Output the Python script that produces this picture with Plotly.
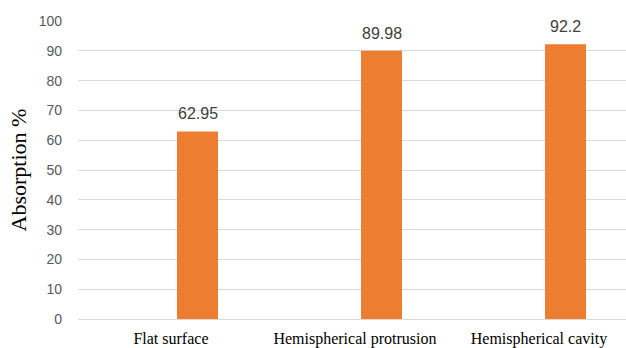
import plotly.graph_objects as go

categories = ["Flat surface", "Hemispherical protrusion", "Hemispherical cavity"]
absorption = [62.95, 89.98, 92.2]
y_ticks = [0, 10, 20, 30, 40, 50, 60, 70, 80, 90, 100]

BAR_OFFSET = 0.033
BAR_WIDTH = 0.223

fig = go.Figure()
fig.add_trace(go.Bar(
    x=categories,
    y=absorption,
    marker=dict(color="#ED7D31", line=dict(width=0)),
    width=BAR_WIDTH,
    offset=BAR_OFFSET,
    cliponaxis=False,
))

# value labels above each bar
for i, v in enumerate(absorption):
    fig.add_annotation(
        x=i + BAR_OFFSET + BAR_WIDTH / 2,
        y=v,
        xref="x",
        yref="y",
        text=str(v),
        showarrow=False,
        yanchor="bottom",
        yshift=7,
        font=dict(family="Liberation Sans", size=16, color="#404040"),
    )

fig.update_layout(
    width=626,
    height=348,
    margin=dict(l=78, r=0, t=21, b=27),
    paper_bgcolor="white",
    plot_bgcolor="white",
    showlegend=False,
    xaxis=dict(
        type="category",
        range=[-0.505, 2.473],
        showgrid=False,
        showline=False,
        zeroline=False,
        ticks="",
        ticklabelstandoff=8,
        tickfont=dict(family="Liberation Serif", size=16, color="#000000"),
    ),
    yaxis=dict(
        range=[0, 100],
        tickvals=y_ticks,
        showgrid=True,
        gridcolor="#D9D9D9",
        gridwidth=1,
        zeroline=True,
        zerolinecolor="#D9D9D9",
        zerolinewidth=1,
        showline=False,
        ticks="",
        ticklabelstandoff=15,
        tickfont=dict(family="Liberation Sans", size=14, color="#595959"),
        title=dict(
            text="Absorption %",
            font=dict(family="Liberation Serif", size=22, color="#000000"),
            standoff=5,
        ),
    ),
)

fig.write_html("out.html")
